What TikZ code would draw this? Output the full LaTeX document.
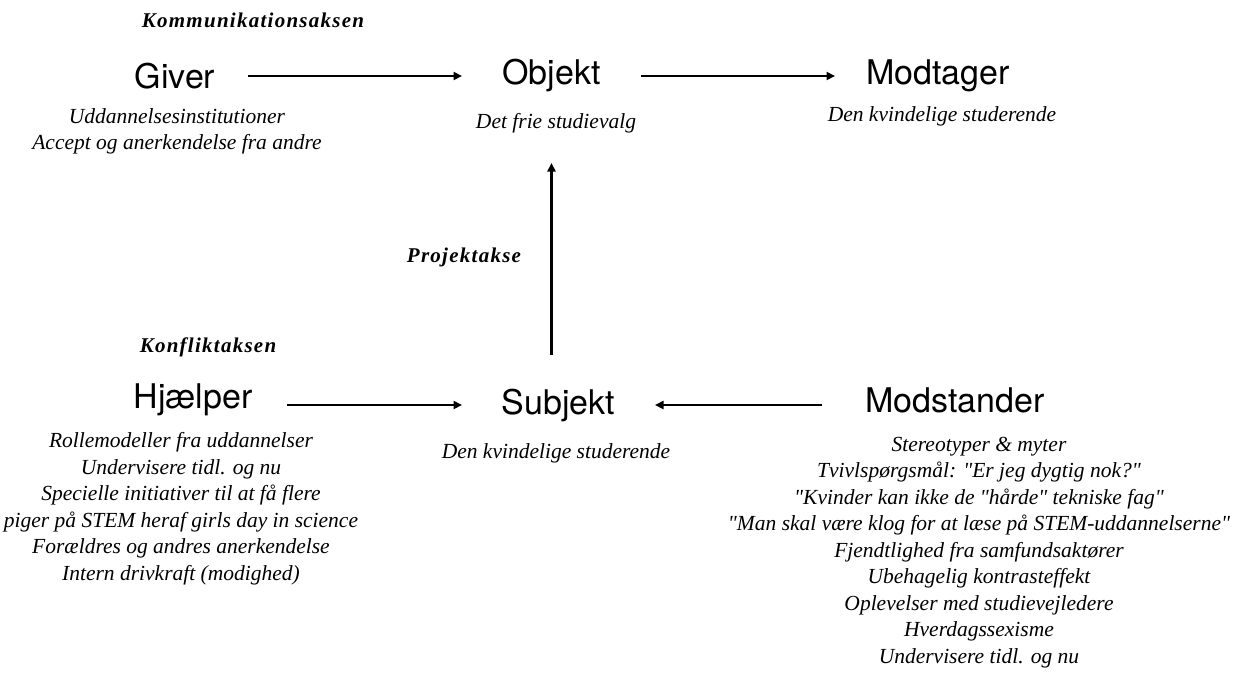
\documentclass[tikz,border=0pt]{standalone}
\usepackage{fontspec}
\setmainfont{Liberation Serif}
\newfontfamily\headfont{TeX Gyre Heros}
\newfontfamily\lstfont{Liberation Serif}
\newfontfamily\axisfont{Liberation Serif}[LetterSpace=6]
\usetikzlibrary{arrows.meta}
\begin{document}
\begin{tikzpicture}[x=1pt,y=-1pt,
  head/.style={font=\headfont\fontsize{34}{40}\selectfont, inner sep=0pt, outer sep=0pt},
  lst/.style={font=\lstfont\itshape\fontsize{21.5}{26.5}\selectfont, align=center, inner sep=0pt},
  axis/.style={font=\axisfont\bfseries\itshape\fontsize{21}{24}\selectfont, inner sep=0pt},
  arr/.style={line width=2.2pt, -{Triangle[length=8.5pt,width=8pt]}}]
\useasboundingbox (0,0) rectangle (1250,673);
\node[axis] (kom) at (253,20) {Kommunikationsaksen};
\node[head, minimum width=146pt] (giver) at (175,76) {Giver};
\node[head, minimum width=179pt, minimum height=174pt] (objekt) at (551.5,76) {Objekt};
\node[head, minimum width=206pt] (modtager) at (938,76) {Modtager};
\node[lst] (givertxt) at (177,131.5) {Uddannelsesinstitutioner\\Accept og anerkendelse fra andre};
\node[lst] (objekttxt) at (556,123) {Det frie studievalg};
\node[lst] (modtagertxt) at (942,116) {Den kvindelige studerende};
\node[axis] (proj) at (464,257) {Projektakse};
\node[axis] (konf) at (208,347) {Konfliktaksen};
\node[head, minimum width=188pt] (hjaelper) at (193,400) {Hjælper};
\node[head, minimum width=193pt, minimum height=100pt] (subjekt) at (558.5,405) {Subjekt};
\node[head, minimum width=266pt] (modstander) at (955,400) {Modstander};
\node[lst] (subjekttxt) at (556,453) {Den kvindelige studerende};
\node[lst] (hjaelpertxt) at (181,508.5) {Rollemodeller fra uddannelser\\Undervisere tidl. og nu\\Specielle initiativer til at få flere\\piger på STEM heraf girls day in science\\Forældres og andres anerkendelse\\Intern drivkraft (modighed)};
\node[lst] (modstandertxt) at (979,552.5) {Stereotyper \& myter\\Tvivlspørgsmål: "Er jeg dygtig nok?"\\"Kvinder kan ikke de "hårde" tekniske fag"\\"Man skal være klog for at læse på STEM-uddannelserne"\\Fjendtlighed fra samfundsaktører\\Ubehagelig kontrasteffekt\\Oplevelser med studievejledere\\Hverdagssexisme\\Undervisere tidl. og nu};
\draw[arr] (giver) -- (objekt);
\draw[arr] (objekt) -- (modtager);
\draw[arr] (objekt.south |- subjekt.north) -- (objekt.south);
\draw[arr] (hjaelper.east |- subjekt.west) -- (subjekt.west);
\draw[arr] (modstander.west |- subjekt.east) -- (subjekt.east);
\end{tikzpicture}
\end{document}
